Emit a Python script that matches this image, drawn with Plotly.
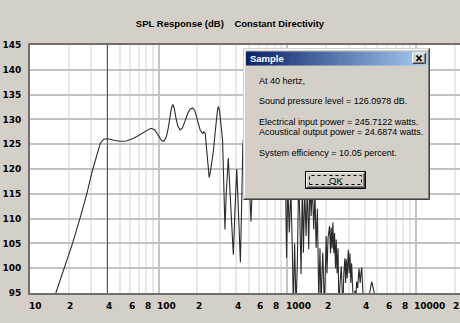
import math
import plotly.graph_objects as go

# Modelled on-axis SPL response of the constant directivity system
freq_hz = [
    15.0, 18.0, 21.4, 24.5, 27.7, 30.5, 33.2, 35.2, 37.4, 40.0,
    42.0, 44.7, 50.0, 56.0, 64.0, 72.0, 80.0, 87.0, 93.0, 99.0,
    105.0, 110.0, 115.0, 119.0, 123.0, 126.0, 129.0, 132.0, 136.0, 141.0,
    147.0, 153.0, 160.0, 168.0, 176.0, 184.0, 191.0, 200.0, 210.0, 219.0,
    225.0, 230.0, 237.0, 243.0, 247.0, 252.0, 260.0, 267.0, 274.0, 281.0,
    287.0, 292.0, 298.0, 305.0, 314.0, 320.0, 327.8, 335.0, 341.0, 347.8,
    356.0, 366.0, 380.6, 391.0, 398.0, 404.6, 412.0, 422.0, 431.9, 442.0,
    451.0, 470.0, 500.0, 522.0, 545.0, 580.0, 620.0, 660.0, 700.0, 745.0,
    790.0, 840.0, 890.0, 930.0, 964.0, 987.0, 1009.0, 1037.0, 1065.0, 1094.0,
    1114.0, 1140.0, 1169.0, 1197.0, 1225.0, 1252.0, 1279.0, 1309.0, 1334.0, 1365.0,
    1400.0, 1432.0, 1467.0, 1499.0, 1532.0, 1567.0, 1605.0, 1640.0, 1675.0, 1714.0,
    1756.0, 1794.0, 1833.0, 1860.0, 1888.0, 1918.0, 1946.0, 1982.0, 2006.0, 2035.0,
    2072.0, 2129.0, 2168.0, 2195.0, 2228.0, 2261.0, 2297.0, 2330.0, 2371.0, 2401.0,
    2437.0, 2480.0, 2517.0, 2571.0, 2628.0, 2667.0, 2705.0, 2750.0, 2803.0, 2840.0,
    2875.0, 2918.0, 2980.0, 3024.0, 3068.0, 3118.0, 3162.0, 3221.0, 3296.0, 3357.0,
    3412.0, 3459.0, 3524.0, 3607.0, 3686.0, 3739.0, 3788.0, 3856.0, 3944.0, 4177.0,
    4300.0, 4529.0, 4780.0, 5047.0, 6000.0, 8000.0, 12000.0, 20000.0,
]
spl_db = [
    93.1, 99.2, 105.0, 110.1, 115.1, 119.6, 123.2, 125.2, 126.0, 126.0978,
    126.0, 125.8, 125.6, 125.65, 126.2, 127.0, 127.8, 128.2, 127.9, 126.9,
    125.8, 125.6, 126.6, 128.4, 130.8, 132.4, 133.0, 132.3, 130.4, 128.6,
    127.9, 128.3, 129.6, 131.2, 132.1, 132.3, 131.8, 130.0, 127.9, 127.2,
    127.5, 127.2, 124.0, 120.0, 118.3, 119.3, 121.8, 123.8, 127.0, 130.0,
    132.0, 132.6, 131.6, 129.0, 125.8, 118.0, 107.8, 115.0, 120.0, 122.2,
    117.0, 110.0, 102.7, 111.0, 117.0, 120.0, 115.0, 108.0, 101.2, 113.0,
    124.8, 129.0, 121.0, 109.4, 122.0, 130.0, 124.0, 131.0, 123.0, 128.0,
    120.0, 126.0, 118.0, 124.0, 121.0, 102.1, 117.0, 107.2, 116.0, 104.0,
    92.0, 105.0, 92.0, 101.0, 118.0, 110.0, 98.8, 117.0, 103.1, 116.0,
    106.5, 117.0, 103.8, 118.0, 110.5, 117.0, 107.8, 115.0, 104.1, 112.0,
    93.0, 104.0, 92.0, 99.0, 103.1, 97.0, 92.0, 101.0, 106.5, 99.0,
    106.0, 108.5, 103.0, 108.2, 104.0, 109.2, 103.0, 107.1, 100.0, 105.8,
    99.0, 104.0, 92.0, 97.0, 100.4, 96.0, 92.0, 99.0, 102.0, 97.0,
    101.8, 98.0, 103.7, 99.0, 103.0, 97.0, 101.0, 96.0, 92.0, 95.5,
    94.0, 97.3, 96.0, 100.0, 97.0, 99.0, 100.2, 96.0, 92.0, 93.0,
    94.0, 97.3, 94.0, 92.0, 89.0, 85.0, 80.0, 74.0,
]

# Cursor readout
cursor_hz = 40
cursor_spl = 126.0978
electrical_w = 245.7122
acoustic_w = 24.6874

# Axes
x_min_hz, x_max_hz = 10, 22000
y_min_db, y_max_db = 95, 145
y_ticks = [95, 100, 105, 110, 115, 120, 125, 130, 135, 140, 145]
x_decades = [10, 100, 1000, 10000]
x_minor = [m * d for d in x_decades for m in range(2, 10)]
x_tick_hz = [10, 20, 40, 60, 80, 100, 200, 400, 600, 800,
             1000, 2000, 4000, 6000, 8000, 10000, 20000]
x_tick_text = ["10", "2", "4", "6", "8", "100", "2", "4", "6", "8",
               "1000", "2", "4", "6", "8", "10000", "2"]

title_text = "SPL Response (dB)\u00a0\u00a0\u00a0\u00a0Constant Directivity"

W, H = 460, 323
ML, MT, MR, MB = 30, 45, 0, 30
PW, PH = W - ML - MR, H - MT - MB

FACE = "#d4d0c8"
SANS = "Liberation Sans"


def px(x):
    return (x - ML) / PW


def py(y):
    return (H - MB - y) / PH


shapes = []


def rect(x0, y0, x1, y1, fill=None, line=None, width=1, dash=None):
    d = dict(type="rect", xref="paper", yref="paper",
             x0=px(x0), x1=px(x1), y0=py(y1), y1=py(y0), layer="above")
    d["fillcolor"] = fill if fill else "rgba(0,0,0,0)"
    if line:
        d["line"] = dict(color=line, width=width)
        if dash:
            d["line"]["dash"] = dash
    else:
        d["line"] = dict(width=0)
    shapes.append(d)


def seg(x0, y0, x1, y1, color, width=1):
    shapes.append(dict(type="line", xref="paper", yref="paper",
                       x0=px(x0), x1=px(x1), y0=py(y0), y1=py(y1),
                       line=dict(color=color, width=width), layer="above"))


def bevel(x0, y0, x1, y1, light="#ffffff", dark="#404040", mid="#808080"):
    seg(x0, y0, x1, y0, light)
    seg(x0, y0, x0, y1, light)
    seg(x1, y0, x1, y1, dark)
    seg(x0, y1, x1, y1, dark)
    seg(x1 - 1, y0 + 1, x1 - 1, y1 - 1, mid)
    seg(x0 + 1, y1 - 1, x1 - 1, y1 - 1, mid)


# Cursor marker at the readout frequency
shapes.append(dict(type="line", xref="x", yref="y",
                   x0=cursor_hz, x1=cursor_hz, y0=y_min_db, y1=y_max_db,
                   line=dict(color="#ff0000", width=1), layer="above"))

# Dialog window
rect(243, 48, 430, 200, fill=FACE)
bevel(243.5, 48.5, 429.5, 199.5, light=FACE)
seg(244.5, 49.5, 427.5, 49.5, "#ffffff")
seg(244.5, 49.5, 244.5, 197.5, "#ffffff")

# Title bar gradient
c0 = (10, 36, 106)
c1 = (166, 202, 240)
tb_x0, tb_x1, tb_y0, tb_y1 = 246, 427, 51.5, 65.5
n_steps = 48
step = (tb_x1 - tb_x0) / n_steps
for i in range(n_steps):
    t = i / (n_steps - 1)
    col = "rgb({},{},{})".format(*[round(a + (b - a) * t) for a, b in zip(c0, c1)])
    rect(tb_x0 + i * step, tb_y0, tb_x0 + (i + 1) * step + 0.6, tb_y1, fill=col)

# Close button
rect(412.5, 53, 426, 63.5, fill=FACE)
bevel(412.5, 53, 425.5, 63.5)
seg(416.5, 55.5, 421.5, 61, "#000000", 1.6)
seg(421.5, 55.5, 416.5, 61, "#000000", 1.6)

# OK button
rect(305.5, 171.5, 365.5, 188.5, fill=FACE, line="#000000")
bevel(306.5, 172.5, 364.5, 187.5)
rect(309.5, 175.5, 361.5, 184.5, line="#000000", width=1, dash="dot")

annotations = []
lines = [
    (80.5, f"At {cursor_hz} hertz,"),
    (100.5, f"Sound pressure level = {cursor_spl:.4f} dB."),
    (121.5, f"Electrical input power = {electrical_w:.4f} watts."),
    (131.5, f"Acoustical output power = {acoustic_w:.4f} watts."),
    (152.5, f"System efficiency = {100 * acoustic_w / electrical_w:.2f} percent."),
]
for yy, txt in lines:
    annotations.append(dict(xref="paper", yref="paper", x=px(256.5), y=py(yy),
                            xanchor="left", yanchor="middle", showarrow=False,
                            text=txt, font=dict(family=SANS, size=9, color="#000000")))
annotations.append(dict(xref="paper", yref="paper", x=px(247.5), y=py(58.5),
                        xanchor="left", yanchor="middle", showarrow=False,
                        text="Sample",
                        font=dict(family=SANS, size=9.5, color="#ffffff", weight="bold")))
annotations.append(dict(xref="paper", yref="paper", x=px(335.5), y=py(180),
                        xanchor="center", yanchor="middle", showarrow=False,
                        text="OK", font=dict(family=SANS, size=9.5, color="#000000")))

# Frequency tick labels, leading digit centred on its gridline
for hz, lab in zip(x_tick_hz, x_tick_text):
    annotations.append(dict(xref="x", yref="paper", x=math.log10(hz), y=py(305.5),
                            xanchor="left", yanchor="middle", xshift=-3.5,
                            showarrow=False, text=lab,
                            font=dict(family="DejaVu Sans", size=9,
                                      color="#000000", weight="bold")))

fig = go.Figure()
fig.add_trace(go.Scatter(x=freq_hz, y=spl_db, mode="lines",
                         line=dict(color="#2a2a2a", width=1.1),
                         hoverinfo="skip", showlegend=False))

fig.update_layout(
    width=W, height=H,
    margin=dict(l=ML, r=MR, t=MT, b=MB, pad=0),
    paper_bgcolor=FACE, plot_bgcolor="#ffffff",
    title=dict(text=title_text, x=0.5, xref="container", xanchor="center",
               y=1 - 23.5 / H, yref="container", yanchor="middle",
               font=dict(family=SANS, size=9.5, color="#000000", weight="bold")),
    xaxis=dict(type="log", range=[math.log10(x_min_hz), math.log10(x_max_hz)],
               tickvals=x_decades, showticklabels=False, ticks="",
               showgrid=True, gridcolor="#c4c4c4", gridwidth=1.5,
               minor=dict(tickvals=x_minor, showgrid=True, gridcolor="#e8e8e8",
                          gridwidth=1.5, ticks=""),
               showline=True, linecolor="#6f6f6f", linewidth=2, mirror=True,
               zeroline=False, fixedrange=True),
    yaxis=dict(range=[y_min_db, y_max_db], tickvals=y_ticks, ticks="",
               showgrid=True, gridcolor="#c2c2c2", gridwidth=1.5,
               tickfont=dict(family="DejaVu Sans", size=9, color="#000000",
                             weight="bold"),
               ticklabelstandoff=5,
               showline=True, linecolor="#6f6f6f", linewidth=2, mirror=False,
               zeroline=False, fixedrange=True),
    shapes=shapes,
    annotations=annotations,
    showlegend=False,
)

fig.write_html("out.html", config={"displayModeBar": False})
